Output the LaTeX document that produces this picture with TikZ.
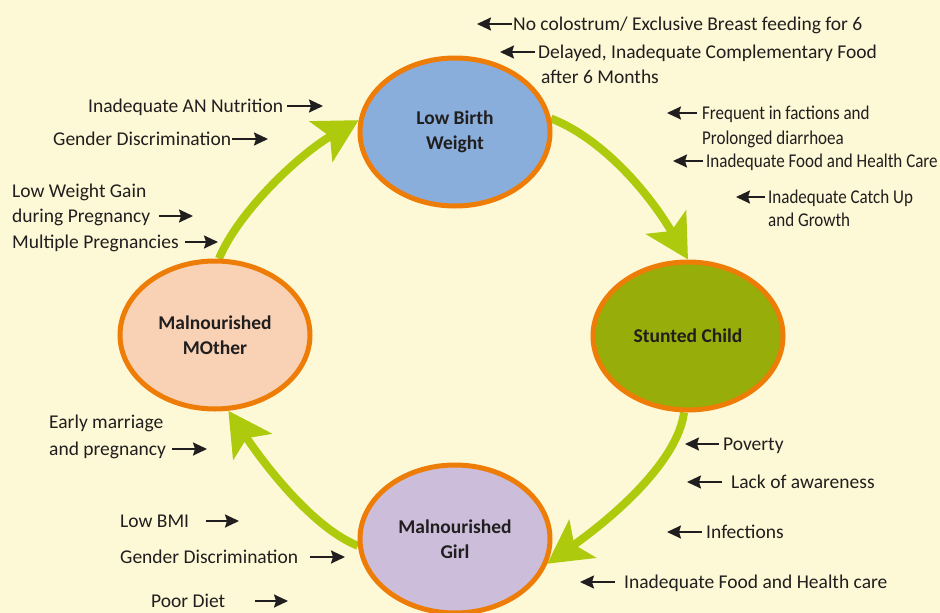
\documentclass[tikz,border=0pt]{standalone}
\usepackage{fontspec}
\setmainfont{Carlito}
\usetikzlibrary{shapes.geometric,arrows.meta,positioning,backgrounds}
\definecolor{bg}{RGB}{253,248,214}
\definecolor{rim}{RGB}{238,125,8}
\definecolor{lbwfill}{RGB}{138,174,220}
\definecolor{scfill}{RGB}{151,173,9}
\definecolor{mmfill}{RGB}{249,209,180}
\definecolor{mgfill}{RGB}{204,189,219}
\definecolor{loopgreen}{RGB}{174,202,12}
\definecolor{ink}{RGB}{32,30,30}

\begin{document}
\begin{tikzpicture}[x=1pt,y=-1pt,
        stage/.style={ellipse,draw=rim,line width=5pt,minimum width=190pt,minimum height=148pt,
          align=center,text=ink,font=\fontsize{19.5}{25}\selectfont\bfseries},
        lbl/.style={inner sep=0pt,text=ink,font=\fontsize{19.5}{25}\selectfont},
        lblr/.style={lbl,anchor=base west},
        lblc/.style={lblr,xscale=0.872,transform shape},
        cause/.style={draw=ink,line width=2pt,-{Stealth[length=14pt,width=13pt,inset=2pt]}},
        loopline/.style={draw=loopgreen,line width=8pt,-{Stealth[length=43pt,width=46pt,inset=10pt]}}]

        \useasboundingbox (0,0) rectangle (940,613);

        \node[stage,fill=lbwfill] (lbw) at (455,132) {Low Birth\\Weight};
        \node[stage,fill=scfill] (sc) at (688,336) {Stunted Child};
        \node[stage,fill=mgfill] (mg) at (455,539) {Malnourished\\Girl};
        \node[stage,fill=mmfill] (mm) at (215,335) {Malnourished\\MOther};

        \begin{scope}[on background layer]
        \fill[bg] (0,0) rectangle (940,613);
        \draw[loopline] (lbw.8) .. controls +(47,18) and +(-43,-73) .. (sc.north);
        \draw[loopline] (sc.-93) .. controls +(-6,48) and +(68,-48) .. (mg.-15);
        \draw[loopline] (mg.184) .. controls +(-45,-18) and +(37,55) .. (mm.-80);
        \draw[loopline] (mm.87) .. controls +(20,-48) and +(-58,33) .. (lbw.173);
        \end{scope}

        % causes on the right
        \node[lblr] (r1) at (513,30.5) {No colostrum/ Exclusive Breast feeding for 6};
        \node[lblr] (r2) at (538,58.5) {Delayed, Inadequate Complementary Food};
        \node[lblr] (r2b) at (541,83.5) {after 6 Months};
        \node[lblc] (r3) at (702,119.5) {Frequent in factions and};
        \node[lblc] (r3b) at (702,144.5) {Prolonged diarrhoea};
        \node[lblc] (r4) at (706,167.5) {Inadequate Food and Health Care};
        \node[lblc] (r5) at (768,203.5) {Inadequate Catch Up};
        \node[lblc] (r5b) at (768,226.5) {and Growth};
        \node[lblr] (r6) at (723,450.5) {Poverty};
        \node[lblr] (r7) at (731,488.5) {Lack of awareness};
        \node[lblr] (r8) at (706,538.5) {Infections};
        \node[lblr] (r9) at (624,588.5) {Inadequate Food and Health care};

        \coordinate (tr1) at (477,24);
        \coordinate (tr2) at (500,52);
        \coordinate (tr3) at (667,113);
        \coordinate (tr4) at (673,161);
        \coordinate (tr5) at (736,197);
        \coordinate (tr6) at (685,444);
        \coordinate (tr7) at (687,482);
        \coordinate (tr8) at (667,532);
        \coordinate (tr9) at (580,582);

        \foreach \n/\g in {r1/1,r2/3,r3/5,r4/3,r5/3,r6/4,r7/9,r8/4,r9/9}
          \draw[cause,shorten <=\g pt] (t\n -| \n.west) -- (t\n);

        % causes on the left
        \node[lblr] (l1) at (88,112) {Inadequate AN Nutrition};
        \node[lblr] (l2) at (53,145) {Gender Discrimination};
        \node[lblr] (l3a) at (12,197) {Low Weight Gain};
        \node[lblr] (l3) at (12,222) {during Pregnancy};
        \node[lblr] (l4) at (12,248) {Multiple Pregnancies};
        \node[lblr] (l5a) at (49,428) {Early marriage};
        \node[lblr] (l5) at (49,455) {and pregnancy};
        \node[lblr] (l6) at (120,527) {Low BMI};
        \node[lblr] (l7) at (120,563) {Gender Discrimination};
        \node[lblr] (l8) at (151,607) {Poor Diet};

        \coordinate (tl1) at (323,106);
        \coordinate (tl2) at (268,139);
        \coordinate (tl3) at (193,216);
        \coordinate (tl4) at (218,242);
        \coordinate (tl5) at (207,449);
        \coordinate (tl6) at (239,521);
        \coordinate (tl7) at (345,557);
        \coordinate (tl8) at (288,601);

        \foreach \n/\g in {l1/4,l2/1,l3/9,l4/6,l5/6,l6/17,l7/12,l8/30}
          \draw[cause,shorten <=\g pt] (t\n -| \n.east) -- (t\n);
\end{tikzpicture}
\end{document}
